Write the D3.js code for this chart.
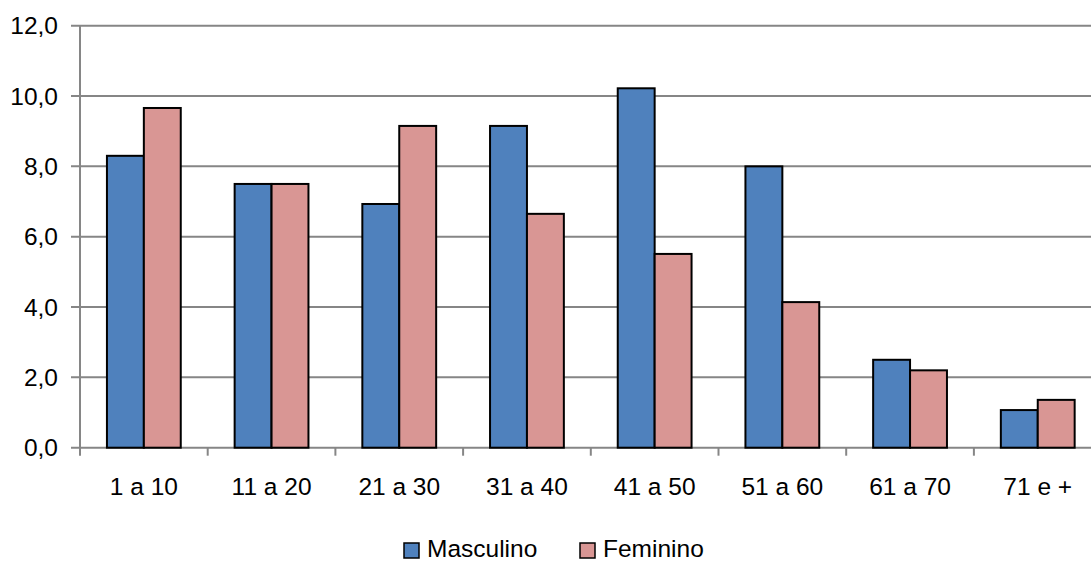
<!DOCTYPE html>
<html><head><meta charset="utf-8">
<script src="https://cdn.jsdelivr.net/npm/d3@7"></script>
<style>body{margin:0;background:#fff}svg{display:block}text{font-family:"Liberation Sans",Arial,sans-serif;fill:#000}</style>
</head><body><svg width="1091" height="561"></svg>
<script>
const categories = ["1 a 10","11 a 20","21 a 30","31 a 40","41 a 50","51 a 60","61 a 70","71 e +"];
const masculino = [8.3,7.5,6.93,9.15,10.22,8.0,2.5,1.07];
const feminino  = [9.66,7.5,9.15,6.65,5.51,4.14,2.2,1.36];
const seriesNames = ["Masculino","Feminino"];
const colors = ["#4F81BD","#D99694"];
const yTicks = [0,2,4,6,8,10,12];

(function(){
const svg = d3.select("svg");
const fs = 24.5;
const left = 80, bandW = 127.7, right = left + bandW*categories.length;
const plotTop = 25.7, plotBottom = 447.7;
const x = d3.scaleBand().domain(categories).range([left,right]).paddingInner(0).paddingOuter(0);
const y = d3.scaleLinear().domain([0,12]).range([plotBottom,plotTop]);
const fmt = v => d3.format(".1f")(v).replace(".",",");

svg.append("g").selectAll("line").data(yTicks).join("line")
  .attr("x1",71).attr("x2",right).attr("y1",d=>y(d)).attr("y2",d=>y(d))
  .attr("stroke","#868686").attr("stroke-width",2);
svg.append("g").selectAll("text").data(yTicks).join("text")
  .attr("x",58).attr("y",d=>y(d)+8.5).attr("text-anchor","end")
  .attr("font-size",fs).text(fmt);
svg.append("line").attr("x1",left).attr("x2",left).attr("y1",plotTop).attr("y2",plotBottom+8)
  .attr("stroke","#868686").attr("stroke-width",2);
svg.append("g").selectAll("line").data(d3.range(1,categories.length+1)).join("line")
  .attr("x1",i=>left+i*x.bandwidth()).attr("x2",i=>left+i*x.bandwidth())
  .attr("y1",plotBottom).attr("y2",plotBottom+8).attr("stroke","#868686").attr("stroke-width",2);
const inner = d3.scaleBand().domain([0,1]).range([0,x.bandwidth()]).paddingOuter(0.73).paddingInner(0);
const data = categories.map((c,i)=>({c, v:[masculino[i],feminino[i]]}));
const g = svg.append("g");
data.forEach(d=>{
  d.v.forEach((v,j)=>{
    g.append("rect").attr("x",x(d.c)+inner(j)).attr("width",inner.bandwidth())
      .attr("y",y(v)).attr("height",y(0)-y(v))
      .attr("fill",colors[j]).attr("stroke","#000").attr("stroke-width",2);
  });
});
svg.append("g").selectAll("text").data(categories).join("text")
  .attr("x",d=>x(d)+x.bandwidth()/2).attr("y",494.5).attr("text-anchor","middle")
  .attr("font-size",fs).text(d=>d);
const lx = [404,580];
seriesNames.forEach((n,j)=>{
  svg.append("rect").attr("x",lx[j]).attr("y",543).attr("width",15).attr("height",15)
    .attr("fill",colors[j]).attr("stroke","#000").attr("stroke-width",1.5);
  svg.append("text").attr("x",lx[j]+23).attr("y",557).attr("font-size",fs).text(n);
});
})();
</script></body></html>
